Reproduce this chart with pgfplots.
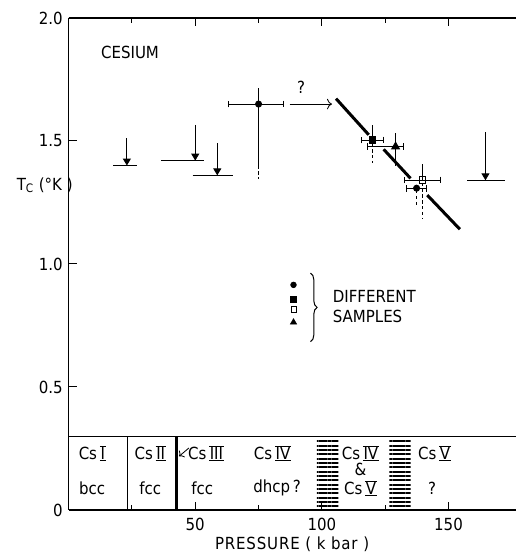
\documentclass[border=0pt]{standalone}
\usepackage{pgfplots}
\pgfplotsset{compat=1.18}
\usepackage{fontspec}
\setmainfont{DejaVu Sans Condensed}
\usetikzlibrary{arrows.meta,patterns.meta,decorations.pathreplacing}
% roman numeral with bars above and below
\newcommand\rn[1]{\setbox0\hbox{\kern0.4pt#1\kern0.4pt}\leavevmode
  \rlap{\rule[-0.9pt]{\wd0}{0.55pt}}\rlap{\rule[\dimexpr\ht0+0.3pt\relax]{\wd0}{0.55pt}}\box0}

\pgfplotsset{
  ebar/.style={black, line width=0.6pt},
  yerr/.style={ebar, mark=none, forget plot, error bars/y explicit,
      error bars/error mark=-,
      error bars/error mark options={black, line width=0.6pt, mark size=2pt}},
  xerr/.style={ebar, error bars/x dir=both, error bars/x explicit,
      error bars/error mark=|,
      error bars/error mark options={black, line width=0.6pt, mark size=2pt}},
}

\begin{document}
\begin{tikzpicture}
\begin{axis}[
    scale only axis,
    width=268pt, height=295pt,
    xmin=0, xmax=176.5,
    ymin=0, ymax=2,
    axis x line=box, axis y line*=left,
    axis line style={-, line width=0.7pt},
    tick align=inside,
    xtick={50,100,150},
    minor xtick={25,75,125},
    ytick={0,0.5,1,1.5,2},
    yticklabels={0,0.5,1.0,1.5,2.0},
    xticklabels={50,100,150},
    xticklabel style={yshift=-1.5pt},
    major tick length=5pt, minor tick length=3pt,
    tick style={black, line width=0.6pt},
    xlabel={\addfontfeature{LetterSpace=5}PRESSURE ( k bar )},
    xlabel style={yshift=3.5pt},
    clip=false,
]
% upper limits (arrows)
\addplot[black, line width=0.6pt] coordinates {(17.6,1.40)(27.1,1.40)};
\addplot[black, line width=0.6pt, -{Triangle[width=4.8pt,length=4.2pt]}] coordinates {(23,1.51)(23,1.40)};
\addplot[black, line width=0.6pt] coordinates {(36.4,1.42)(53.6,1.42)};
\addplot[black, line width=0.6pt, -{Triangle[width=4.8pt,length=4.2pt]}] coordinates {(50,1.565)(50,1.42)};
\addplot[black, line width=0.6pt] coordinates {(49,1.36)(65,1.36)};
\addplot[black, line width=0.6pt, -{Triangle[width=4.8pt,length=4.2pt]}] coordinates {(58.7,1.49)(58.7,1.36)};
\addplot[black, line width=0.6pt] coordinates {(157.4,1.34)(172.5,1.34)};
\addplot[black, line width=0.6pt, -{Triangle[width=4.8pt,length=4.2pt]}] coordinates {(164.6,1.535)(164.6,1.34)};

% fitted line, broken at the markers
\addplot[black, line width=1.8pt] coordinates {(105.6,1.672)(118.5,1.525)};
\addplot[black, line width=1.8pt] coordinates {(124.4,1.466)(135,1.348)};
\addplot[black, line width=1.8pt] coordinates {(141.6,1.28)(154.5,1.141)};

% "?" arrow
\addplot[black, line width=0.5pt, -{To[length=3pt]}] coordinates {(87.3,1.65)(104,1.65)};
\node at (axis cs:91.8,1.72) {?};

% dashed extensions
\addplot[black, line width=0.6pt, dash pattern=on 2pt off 1.5pt] coordinates {(75,1.40)(75,1.345)};
\addplot[black, line width=0.6pt, dash pattern=on 2pt off 1.5pt] coordinates {(120.1,1.49)(120.1,1.41)};
\addplot[black, line width=0.6pt, dash pattern=on 2pt off 1.5pt] coordinates {(139.8,1.33)(139.8,1.186)};
\addplot[black, line width=0.6pt, dash pattern=on 2pt off 1.5pt] coordinates {(137.4,1.30)(137.4,1.23)};

% data with error bars: vertical bars first, then horizontal bars with the marker
\addplot[error bars/y dir=both, yerr] coordinates {(75,1.65) += (0,0.05) -= (0,0.25)};
\addplot[xerr, mark=*, mark size=1.8pt] coordinates {(75,1.65) += (10,0) -= (12,0)};

\addplot[error bars/y dir=plus, yerr] coordinates {(120.1,1.504) +- (0,0.046)};
\addplot[xerr, mark=square*, mark size=1.9pt] coordinates {(120.1,1.504) +- (4.3,0)};

\addplot[error bars/y dir=both, yerr] coordinates {(129.1,1.477) += (0,0.04) -= (0,0.064)};
\addplot[xerr, mark=triangle*, mark size=2.6pt] coordinates {(129.1,1.477) += (3.2,0) -= (11.2,0)};

\addplot[error bars/y dir=plus, yerr] coordinates {(139.8,1.341) +- (0,0.05)};
\addplot[xerr, mark=square, mark size=1.9pt, mark options={fill=white}] coordinates {(139.8,1.341) +- (7,0)};

\addplot[xerr, mark=*, mark size=1.8pt] coordinates {(137.4,1.308) +- (3.8,0)};

% legend symbols
\addplot[black, only marks, mark=*, mark size=1.7pt] coordinates {(88.8,0.915)};
\addplot[black, only marks, mark=square*, mark size=1.7pt] coordinates {(88.8,0.856)};
\addplot[black, only marks, mark=square, mark size=1.6pt, mark options={fill=white}] coordinates {(88.8,0.815)};
\addplot[black, only marks, mark=triangle*, mark size=2.1pt] coordinates {(88.8,0.763)};
\draw[line width=0.6pt, decorate, decoration={brace, amplitude=4pt}] (axis cs:95.5,0.963) -- (axis cs:95.5,0.684);
\node[anchor=west, align=left] at (axis cs:102,0.826) {DIFFERENT\\SAMPLES};

% texts
\node[anchor=west] at (axis cs:10.5,1.86) {CESIUM};
\node[anchor=west] at (axis cs:-22.8,1.32) {T\textsubscript{C} (°K )};

% phase box
\addplot[black, line width=0.7pt] coordinates {(0,0.297)(176.5,0.297)};
\addplot[black, line width=0.6pt] coordinates {(23.4,0)(23.4,0.297)};
\addplot[black, line width=1.8pt] coordinates {(42.4,0)(42.4,0.297)};
\fill[pattern={Lines[angle=0,distance=2.6pt,line width=1.1pt]}] (axis cs:98,0.005) rectangle (axis cs:106.5,0.292);
\fill[pattern={Lines[angle=0,distance=2.6pt,line width=1.1pt]}] (axis cs:126.7,0.005) rectangle (axis cs:135,0.292);
\draw[line width=0.5pt, -{To[length=2.5pt]}] (axis cs:47.5,0.252) -- (axis cs:43.6,0.218);

\node at (axis cs:9.3,0.230) {Cs\,\rn{I}};
\node at (axis cs:9.3,0.088) {bcc};
\node at (axis cs:32.2,0.230) {Cs\,\rn{II}};
\node at (axis cs:32.2,0.088) {fcc};
\node at (axis cs:54.2,0.230) {Cs\,\rn{III}};
\node at (axis cs:52.8,0.088) {fcc};
\node at (axis cs:80.5,0.230) {Cs\,\rn{IV}};
\node at (axis cs:82.3,0.088) {dhcp\,?};
\node at (axis cs:115.2,0.230) {Cs\,\rn{IV}};
\node at (axis cs:115.2,0.165) {\&};
\node at (axis cs:115.2,0.088) {Cs\,\rn{V}};
\node at (axis cs:144.5,0.230) {Cs\,\rn{V}};
\node at (axis cs:143.5,0.088) {?};

\coordinate (bl) at (axis cs:-27.1,-0.179);
\coordinate (tr) at (axis cs:176.5,2.073);
\end{axis}
\pgfresetboundingbox
\path[use as bounding box] (bl) rectangle (tr);
\end{tikzpicture}
\end{document}
